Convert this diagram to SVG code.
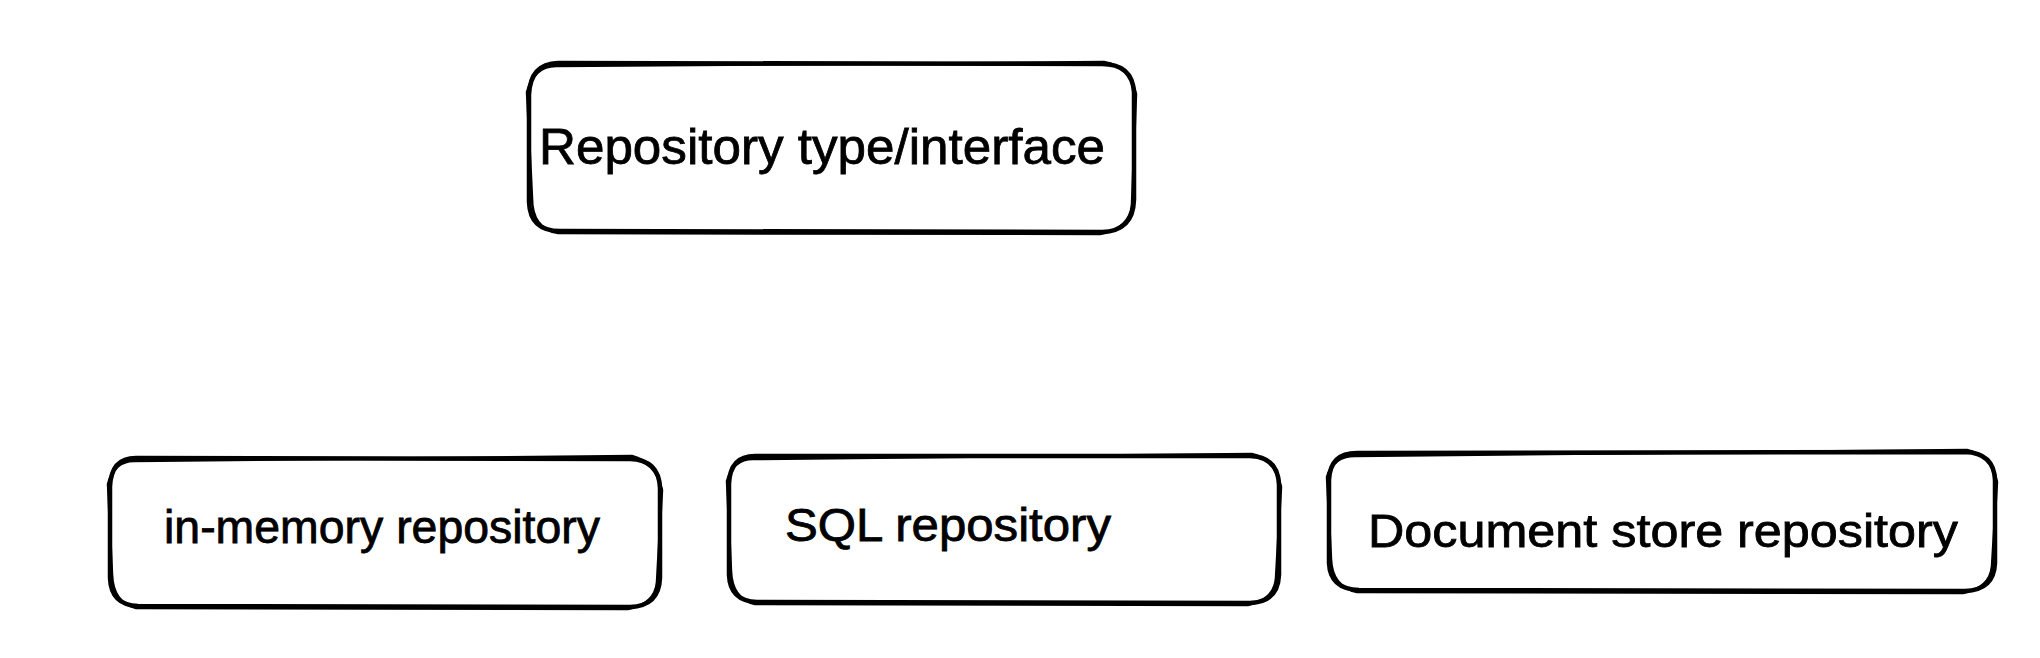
<svg xmlns="http://www.w3.org/2000/svg" width="2040" height="658" viewBox="0 0 2040 658">
<style>
.b{fill:none;stroke:#000;stroke-width:4.5;stroke-linecap:round;stroke-linejoin:round}
.b2{fill:none;stroke:#000;stroke-width:2.5;stroke-linecap:round;stroke-linejoin:round}
.t{font-family:"Liberation Sans",Arial,sans-serif;fill:#000;stroke:#000;stroke-width:0.8}
</style>
<rect width="2040" height="658" fill="#fff"/>
<g id="connectors"></g>
<g id="node-interface">
<path class="b" d="M558 63 L1102 64 Q1132 64 1134 92 L1134 200 Q1133 231 1102 232 L560 231 Q530 231 529 202 L529 95 Q530 64 558 63 Z"/>
<path class="b2" d="M556 66 L1104 62 Q1130 66 1136 94 L1132 204 Q1130 229 1100 234 L558 233 Q532 229 532 198 L527 92 Q534 66 556 66"/>
<text class="t" x="539" y="164" font-size="50" textLength="566" lengthAdjust="spacingAndGlyphs">Repository type/interface</text>
</g>
<g id="node-inmemory">
<path class="b" d="M136 458 L630 459 Q659 460 660 488 L660 578 Q659 606 630 607 L138 606 Q111 605 110 578 L110 487 Q111 458 136 458 Z"/>
<path class="b2" d="M134 461 L632 456 Q656 462 662 490 L657 582 Q655 604 628 609 L136 608 Q113 603 112 574 L108 484 Q114 461 134 461"/>
<text class="t" x="164" y="543" font-size="46" textLength="436" lengthAdjust="spacingAndGlyphs">in-memory repository</text>
</g>
<g id="node-sql">
<path class="b" d="M755 456 L1250 456 Q1278 457 1279 485 L1279 575 Q1278 602 1250 603 L757 602 Q730 601 729 575 L729 484 Q730 456 755 456 Z"/>
<path class="b2" d="M753 459 L1252 454 Q1276 459 1281 487 L1276 578 Q1274 600 1248 605 L755 604 Q732 599 731 571 L727 481 Q733 459 753 459"/>
<text class="t" x="785" y="541" font-size="46" textLength="326" lengthAdjust="spacingAndGlyphs">SQL repository</text>
</g>
<g id="node-document">
<path class="b" d="M1357 453 L1965 452 Q1994 453 1995 480 L1995 563 Q1994 590 1965 591 L1359 590 Q1330 589 1329 563 L1329 480 Q1330 453 1357 453 Z"/>
<path class="b2" d="M1355 456 L1967 450 Q1992 455 1997 482 L1992 566 Q1990 588 1963 593 L1357 592 Q1332 587 1331 559 L1327 477 Q1333 456 1355 456"/>
<text class="t" x="1368" y="547" font-size="46" textLength="590" lengthAdjust="spacingAndGlyphs">Document store repository</text>
</g>
</svg>
